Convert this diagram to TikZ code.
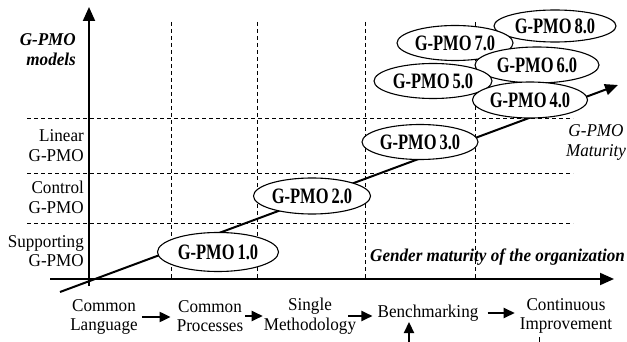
\documentclass[tikz,border=0pt]{standalone}
\usepackage{fontspec}
\setmainfont[FakeStretch=0.95]{Liberation Serif}
\newfontfamily\gpfont[FakeStretch=0.75]{Liberation Serif}
\usetikzlibrary{shapes.geometric,arrows.meta}
\newcommand\gptight{\spaceskip 3pt\relax}
\begin{document}
\begin{tikzpicture}[x=1pt,y=-1pt,
  lbl/.style={font=\fontsize{18}{19.5}\selectfont, inner sep=0pt},
  grid/.style={dashed, dash pattern=on 4pt off 3pt, line width=0.8pt},
  axis/.style={line width=2pt, -{Triangle[length=14pt,width=12pt]}},
  flow/.style={line width=2.2pt, -{Triangle[length=11pt,width=10pt]}},
  diag/.style={line width=2pt, -{Triangle[length=13pt,width=11pt]}},
  gp/.style={ellipse, draw, line width=1.1pt, fill=white, inner sep=0pt,
    minimum width=118pt, minimum height=36pt,
    font=\gpfont\fontsize{22}{24}\selectfont\bfseries, execute at begin node=\gptight}]
\useasboundingbox (0,0) rectangle (627,342);
% grid
\foreach \x in {171,257,365,475} \draw[grid] (\x,22) -- (\x,279);
\foreach \y in {118,173,223} \draw[grid] (27,\y) -- (573,\y);
% axes
\coordinate (vb) at (89,286);
\coordinate (vt) at (89,7);
\coordinate (hl) at (50,279);
\coordinate (hr) at (614,279);
\draw[axis] (vb) -- (vt);
\draw[axis] (hl) -- (hr);
% diagonal
\coordinate (d0) at (60,292);
\coordinate (d1) at (618,85);
\draw[diag] (d0) -- (d1);
% ellipses
\node[gp, minimum width=121pt, minimum height=39pt] (g1) at (218,252) {G-PMO 1.0};
\node[gp, minimum width=117pt, minimum height=36pt] (g2) at (312,196) {G-PMO 2.0};
\node[gp, minimum width=116pt, minimum height=35pt] (g3) at (420,142) {G-PMO 3.0};
\node[gp, minimum width=122pt, minimum height=32pt] (g8) at (555,26) {G-PMO 8.0};
\node[gp, minimum width=116pt, minimum height=35pt] (g7) at (455,43) {G-PMO 7.0};
\node[gp, minimum width=124pt, minimum height=36pt] (g6) at (537,65) {G-PMO 6.0};
\node[gp, minimum width=118pt, minimum height=35pt] (g5) at (433,81) {G-PMO 5.0};
\node[gp, minimum width=115pt, minimum height=36pt] (g4) at (530,100) {G-PMO 4.0};
% axis labels
\node[lbl, anchor=east, align=right, font=\fontsize{18}{20}\selectfont\bfseries\itshape] (ym) at (76,50) {G-PMO\\models};
\node[lbl, anchor=east, align=right] (ylin) at (84,145.5) {Linear\\G-PMO};
\node[lbl, anchor=east, align=right] (ycon) at (84,197.5) {Control\\G-PMO};
\node[lbl, anchor=east, align=right] (ysup) at (84,251) {Supporting\\G-PMO};
\node[lbl, align=center, font=\fontsize{18}{19.5}\selectfont\itshape] (mat) at (596,142.5) {G-PMO\\Maturity};
\node[lbl, font=\fontsize{18}{19.5}\selectfont\bfseries\itshape] (gen) at (497.5,257) {Gender maturity of the organization};
% bottom sequence
\node[lbl, align=center] (cl) at (104,317) {Common\\Language};
\node[lbl, align=center] (cp) at (210,316) {Common\\Processes};
\node[lbl, align=center] (sm) at (310,316) {Single\\Methodology};
\node[lbl] (bm) at (428,313) {Benchmarking};
\node[lbl, align=center] (ci) at (566,316) {Continuous\\Improvement};
\draw[flow, shorten <=4pt, shorten >=6pt] (cl.east) -- (cl.east -| cp.west);
\draw[flow, shorten <=2pt, shorten >=1pt] (cp.east) -- (cp.east -| sm.west);
\draw[flow, shorten <=-8pt, shorten >=5pt] (sm.east) -- (sm.east -| bm.west);
\draw[flow, shorten <=9pt, shorten >=5pt] (bm.east) -- (bm.east -| ci.west);
\coordinate (ub) at (409,343);
\coordinate (ut) at (409,322);
\draw[flow] (ub) -- (ut);
\coordinate (tb) at (539,343);
\coordinate (tt) at (539,337);
\draw[line width=1pt] (tb) -- (tt);
\end{tikzpicture}
\end{document}
